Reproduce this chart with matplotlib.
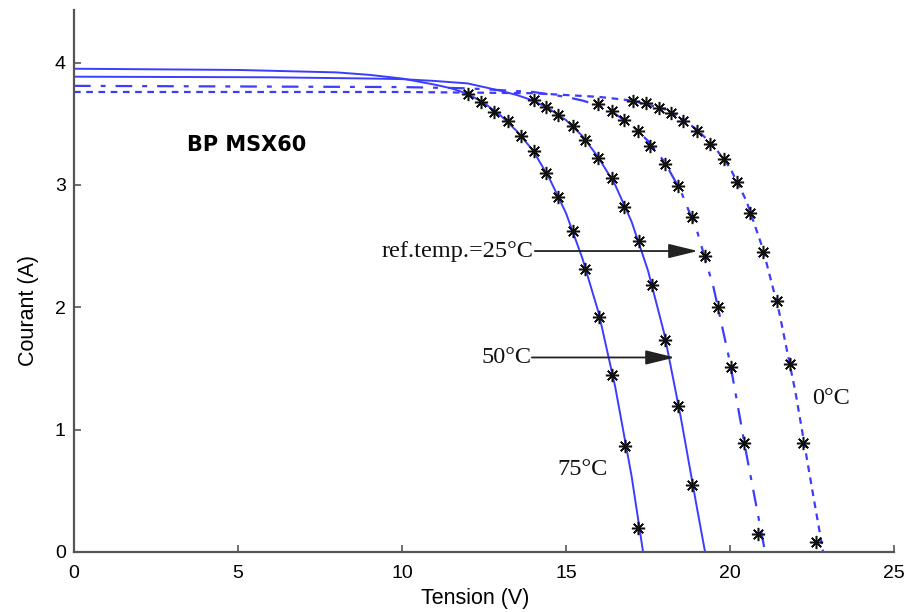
import matplotlib
matplotlib.use("Agg")
import matplotlib.pyplot as plt

# ---- data ----
# model curves (lines)
v75_line = [0, 5, 8, 9, 10, 11, 11.5, 12, 12.5, 13, 13.5, 14, 14.5, 15, 15.5, 16, 16.5, 17, 17.35]
i75_line = [3.95, 3.94, 3.92, 3.90, 3.87, 3.82, 3.79, 3.745, 3.67, 3.57, 3.44, 3.28, 3.05, 2.77, 2.40, 1.95, 1.35, 0.62, 0.0]

v50_line = [0, 6, 9, 10, 11, 12, 12.5, 13, 13.5, 14, 14.5, 15, 15.5, 16, 16.5, 17, 17.5, 18, 18.5, 19, 19.24]
i50_line = [3.885, 3.88, 3.87, 3.865, 3.85, 3.83, 3.80, 3.77, 3.735, 3.69, 3.62, 3.53, 3.40, 3.22, 3.00, 2.70, 2.30, 1.78, 1.10, 0.35, 0.0]

v25_line = [0, 10, 12, 13, 14, 15, 15.5, 16, 16.5, 17, 17.5, 18, 18.5, 19, 19.5, 20, 20.5, 21.07]
i25_line = [3.81, 3.80, 3.79, 3.775, 3.76, 3.72, 3.69, 3.65, 3.58, 3.49, 3.36, 3.19, 2.95, 2.62, 2.16, 1.55, 0.80, 0.0]

v0_line = [0, 10, 14, 16, 17, 18, 18.5, 19, 19.5, 20, 20.5, 21, 21.5, 22, 22.5, 22.84]
i0_line = [3.76, 3.76, 3.75, 3.72, 3.69, 3.62, 3.55, 3.45, 3.32, 3.14, 2.87, 2.48, 1.96, 1.30, 0.52, 0.0]

# measured points (stars)
v75_pts = [12.01, 12.41, 12.80, 13.23, 13.63, 14.02, 14.39, 14.76, 15.21, 15.58, 16.01, 16.40, 16.80, 17.20]
i75_pts = [3.746, 3.68, 3.598, 3.525, 3.402, 3.279, 3.098, 2.902, 2.623, 2.311, 1.918, 1.443, 0.869, 0.197]

v50_pts = [14.02, 14.39, 14.76, 15.21, 15.58, 15.98, 16.40, 16.77, 17.23, 17.62, 18.02, 18.41, 18.84]
i50_pts = [3.697, 3.639, 3.574, 3.484, 3.369, 3.221, 3.057, 2.820, 2.541, 2.180, 1.730, 1.197, 0.549]

v25_pts = [15.98, 16.40, 16.77, 17.20, 17.56, 18.02, 18.41, 18.84, 19.24, 19.63, 20.03, 20.43, 20.85]
i25_pts = [3.664, 3.607, 3.533, 3.443, 3.320, 3.172, 2.992, 2.738, 2.418, 2.000, 1.516, 0.893, 0.148]

v0_pts = [17.04, 17.44, 17.84, 18.20, 18.57, 18.99, 19.39, 19.82, 20.21, 20.61, 21.01, 21.43, 21.83, 22.23, 22.62]
i0_pts = [3.689, 3.672, 3.631, 3.590, 3.525, 3.443, 3.336, 3.213, 3.025, 2.770, 2.451, 2.049, 1.533, 0.893, 0.082]

x_ticks = [0, 5, 10, 15, 20, 25]
y_ticks = [0, 1, 2, 3, 4]

# ---- figure ----
fig = plt.figure(figsize=(9.11, 6.12), dpi=100)
ax = fig.add_axes([74 / 911, 1 - 552 / 612, 820 / 911, 542 / 612])

blue = "#3c3cff"
ax.plot(v75_line, i75_line, color=blue, lw=1.4, ls="-")
ax.plot(v50_line, i50_line, color=blue, lw=1.4, ls="-")
ax.plot(v25_line, i25_line, color=blue, lw=1.6, ls=(0, (7.5, 4.5, 2.2, 4.5)))
ax.plot(v0_line, i0_line, color=blue, lw=1.6, ls=(0, (3, 2.5)))

star = (8, 2, 0)
for v, i in [(v75_pts, i75_pts), (v50_pts, i50_pts), (v25_pts, i25_pts), (v0_pts, i0_pts)]:
    ax.plot(v, i, ls="none", marker=star, ms=9.5, mew=1.1, color="#111111")

ax.set_xlim(0, 25)
ax.set_ylim(0, 4.43)
ax.set_xticks(x_ticks)
ax.set_yticks(y_ticks)

for s in ["top", "right"]:
    ax.spines[s].set_visible(False)
for s in ["left", "bottom"]:
    ax.spines[s].set_color("#555555")
    ax.spines[s].set_linewidth(1.6)
ax.tick_params(direction="in", length=5, width=1.2, color="#555555",
               labelsize=14, pad=6)
ax.tick_params(axis="x", pad=9)
for lab in ax.get_xticklabels() + ax.get_yticklabels():
    lab.set_fontfamily("Liberation Sans")

ax.set_xlabel("Tension (V)", fontsize=15.5, family="Liberation Sans")
ax.set_ylabel("Courant (A)", fontsize=15.5, family="Liberation Sans")
ax.xaxis.set_label_coords(0.489, -0.066)
ax.yaxis.set_label_coords(-0.043, 0.446)

# annotations
ax.text(5.27, 3.33, "BP MSX60", fontsize=15, fontweight="bold",
        family="DejaVu Sans", ha="center", va="center")

serif = "Liberation Serif"
arrow_kw = dict(arrowstyle="-|>,head_length=0.9,head_width=0.22",
                color="#222222", lw=1.3, shrinkA=0, shrinkB=0, mutation_scale=20)
ax.annotate("", xy=(19.02, 2.46), xytext=(14.05, 2.46), arrowprops=arrow_kw)
ax.text(14.02, 2.46, "ref.temp.=25°C", fontsize=17.5, family=serif,
        ha="right", va="center", color="#111111")

ax.annotate("", xy=(18.32, 1.59), xytext=(13.96, 1.59), arrowprops=arrow_kw)
ax.text(13.95, 1.59, "50°C", fontsize=17.5, family=serif,
        ha="right", va="center", color="#111111")

ax.text(15.49, 0.672, "75°C", fontsize=17.5, family=serif,
        ha="center", va="center", color="#111111")
ax.text(23.08, 1.254, "0°C", fontsize=17.5, family=serif,
        ha="center", va="center", color="#111111")

fig.savefig("out.png", dpi=100, facecolor="white")
